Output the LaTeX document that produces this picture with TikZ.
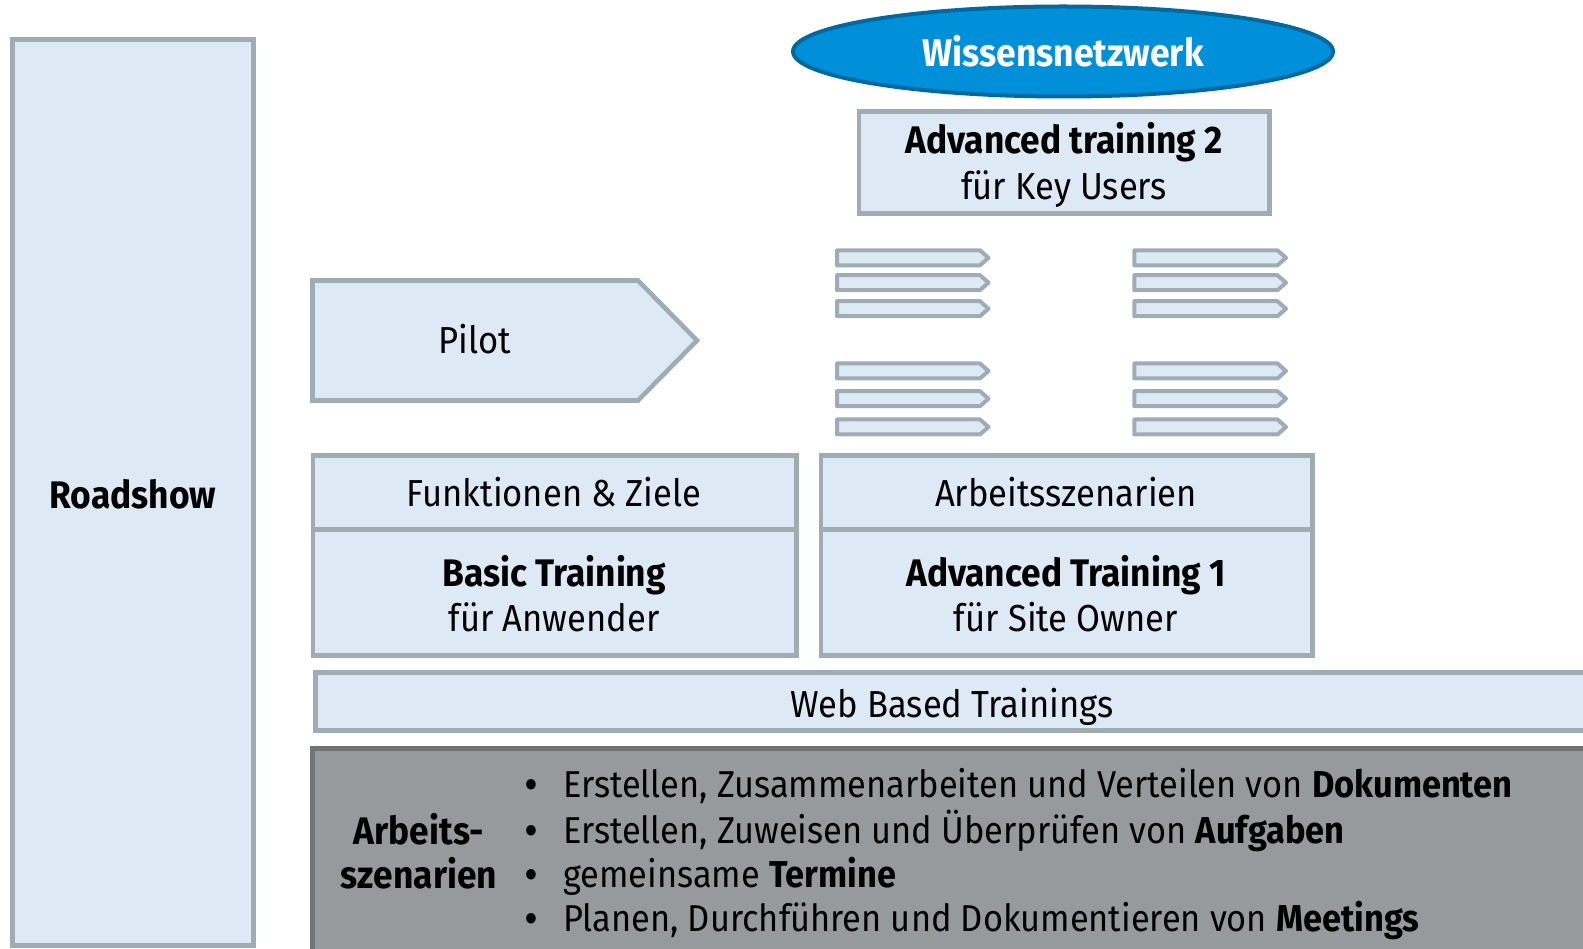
\documentclass[tikz,border=0pt]{standalone}
\usepackage{fontspec}
\setmainfont{Fira Sans}[FakeStretch=0.92]
\usetikzlibrary{shapes.geometric}
\definecolor{lightfill}{RGB}{221,234,245}
\definecolor{boxline}{RGB}{160,172,180}
\definecolor{greyfill}{RGB}{151,154,156}
\definecolor{greyline}{RGB}{112,116,118}
\definecolor{blfill}{RGB}{0,144,218}
\definecolor{blline}{RGB}{0,105,160}
\begin{document}
\begin{tikzpicture}[x=1pt,y=-1pt,
  panel/.style={draw=boxline,fill=lightfill,line width=4.6pt},
  bar/.style={draw=boxline,fill=lightfill,line width=4pt,line join=round},
  txt/.style={font=\fontsize{37.6}{45}\selectfont,inner sep=0pt,anchor=base},
  bld/.style={font=\fontsize{38.4}{45}\selectfont\bfseries,inner sep=0pt,anchor=base},
  btxt/.style={font=\fontsize{37.4}{45}\selectfont,inner sep=0pt,anchor=base west},
]
\useasboundingbox (0,0) rectangle (1583,949);

% Roadshow column
\draw[panel] (12.3,39.5) rectangle (253.7,945.5);
\node[bld] (road) at (133,508) {Roadshow};

% Wissensnetzwerk
\node[ellipse,draw=blline,fill=blfill,line width=4pt,minimum width=540pt,minimum height=90pt,
      inner sep=0pt,text=white,font=\fontsize{38.6}{45}\selectfont\bfseries] (wn) at (1063,51.5) {Wissensnetzwerk};

% Advanced training 2
\draw[panel] (859,111.5) rectangle (1269.5,213.5);
\node[bld] (at2a) at (1064,154) {Advanced training 2};
\node[txt] (at2b) at (1064,200) {für Key Users};

% small bars
\foreach \c in {257.8,282.7,308.7,371,398.7,427}{
  \draw[bar] (837,\c-7.5) -- (980,\c-7.5) -- (988.5,\c) -- (980,\c+7.5) -- (837,\c+7.5) -- cycle;
  \draw[bar] (1134.3,\c-7.5) -- (1277.5,\c-7.5) -- (1286,\c) -- (1277.5,\c+7.5) -- (1134.3,\c+7.5) -- cycle;
}

% Pilot
\draw[panel,line join=miter] (312.5,280.5) -- (638,280.5) -- (697,340.5) -- (638,400.5) -- (312.5,400.5) -- cycle;
\node[txt] (pilot) at (475,354) {Pilot};

% Basic training block
\draw[panel] (313,455.3) rectangle (796.5,655.7);
\draw[panel] (313,455.3) rectangle (796.5,529.5);
\node[txt] (fz) at (554,506) {Funktionen \& Ziele};
\node[bld] (bt) at (554,586) {Basic Training};
\node[txt] (fa) at (554,631) {für Anwender};

% Advanced training 1 block
\draw[panel] (821,455.3) rectangle (1312.5,655.7);
\draw[panel] (821,455.3) rectangle (1312.5,529.5);
\node[txt] (as) at (1066,506) {Arbeitsszenarien};
\node[bld] (at1) at (1066,586) {Advanced Training 1};
\node[txt] (so) at (1066,631) {für Site Owner};

% Web based trainings
\draw[panel] (315.3,672.3) rectangle (1600,730.7);
\node[txt] (wbt) at (952,717) {Web Based Trainings};

% Arbeitsszenarien grey box
\draw[draw=greyline,fill=greyfill,line width=5pt] (312.5,748.5) rectangle (1600,960);
\node[bld] (arb1) at (419,844) {Arbeits-};
\node[bld] (arb2) at (419,888) {szenarien};
\foreach \y/\n in {797.5/1,843/2,887.3/3,931.7/4}{
  \node[btxt,anchor=base,font=\fontsize{37.4}{45}\selectfont\bfseries] (dot\n) at (531,\y) {•};
}
\node[btxt] (l1) at (563,797.5) {Erstellen, Zusammenarbeiten und Verteilen von \textbf{Dokumenten}};
\node[btxt] (l2) at (563,843) {Erstellen, Zuweisen und Überprüfen von \textbf{Aufgaben}};
\node[btxt] (l3) at (563,887.3) {gemeinsame \textbf{Termine}};
\node[btxt] (l4) at (563,931.7) {Planen, Durchführen und Dokumentieren von \textbf{Meetings}};
\end{tikzpicture}
\end{document}
